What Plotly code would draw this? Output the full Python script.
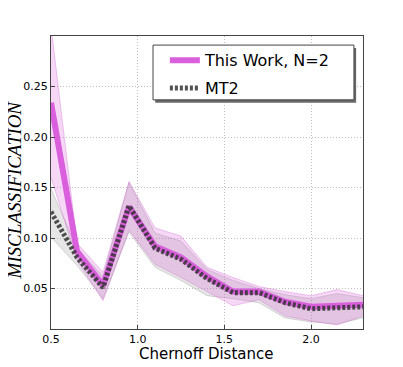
import plotly.graph_objects as go

# Chernoff distance grid
chernoff = [0.5, 0.65, 0.8, 0.95, 1.1, 1.25, 1.4, 1.55, 1.7, 1.85, 2.0, 2.15, 2.3]

# "This Work, N=2" mean and band
work_mean = [0.234, 0.087, 0.053, 0.131, 0.092, 0.081, 0.062, 0.047, 0.047, 0.037, 0.032, 0.033, 0.034]
work_upper = [0.310, 0.095, 0.066, 0.156, 0.110, 0.102, 0.071, 0.061, 0.052, 0.047, 0.043, 0.049, 0.043]
work_lower = [0.160, 0.078, 0.038, 0.108, 0.074, 0.061, 0.047, 0.033, 0.039, 0.023, 0.018, 0.014, 0.023]

# MT2 mean and band
mt2_mean = [0.126, 0.081, 0.051, 0.132, 0.090, 0.079, 0.060, 0.046, 0.046, 0.036, 0.030, 0.031, 0.032]
mt2_upper = [0.149, 0.090, 0.062, 0.155, 0.105, 0.097, 0.069, 0.058, 0.050, 0.044, 0.040, 0.045, 0.041]
mt2_lower = [0.101, 0.073, 0.040, 0.106, 0.071, 0.058, 0.043, 0.040, 0.036, 0.021, 0.017, 0.015, 0.021]

x_ticks = [0.5, 1.0, 1.5, 2.0]
y_ticks = [0.05, 0.10, 0.15, 0.20, 0.25]

fig = go.Figure()

# grey band for MT2
fig.add_trace(go.Scatter(x=chernoff, y=mt2_lower, mode='lines',
                         line=dict(color='rgba(120,120,120,0.35)', width=0.8),
                         showlegend=False, hoverinfo='skip'))
fig.add_trace(go.Scatter(x=chernoff, y=mt2_upper, mode='lines', fill='tonexty',
                         fillcolor='rgba(128,128,128,0.2)',
                         line=dict(color='rgba(120,120,120,0.35)', width=0.8),
                         showlegend=False, hoverinfo='skip'))

# pink band for this work
fig.add_trace(go.Scatter(x=chernoff, y=work_lower, mode='lines',
                         line=dict(color='rgba(200,90,200,0.4)', width=0.8),
                         showlegend=False, hoverinfo='skip'))
fig.add_trace(go.Scatter(x=chernoff, y=work_upper, mode='lines', fill='tonexty',
                         fillcolor='rgba(218,95,220,0.25)',
                         line=dict(color='rgba(200,90,200,0.4)', width=0.8),
                         showlegend=False, hoverinfo='skip'))

fig.add_trace(go.Scatter(x=chernoff, y=work_mean, mode='lines', name='This Work, N=2',
                         legendgroup='a',
                         line=dict(color='#d95fdc', width=6)))
fig.add_trace(go.Scatter(x=chernoff, y=mt2_mean, mode='lines', name='MT2',
                         legendgroup='b',
                         line=dict(color='rgba(50,50,50,0.85)', width=5, dash='3px,2px')))

axis_common = dict(showline=True, mirror=True, linecolor='#444', linewidth=1,
                   showgrid=True, gridcolor='#bdbdbd', griddash='1px,2px', gridwidth=1,
                   zeroline=False, ticks='inside', ticklen=4, tickcolor='#444',
                   automargin=False,
                   tickfont=dict(family='DejaVu Sans', size=11, color='black'))

fig.update_xaxes(range=[0.5, 2.3], tickvals=x_ticks, ticktext=['0.5', '1.0', '1.5', '2.0'],
                 **axis_common)
fig.update_yaxes(range=[0.01, 0.30], tickvals=y_ticks, ticktext=['0.05', '0.10', '0.15', '0.20', '0.25'],
                 **axis_common)

# axis titles as annotations for exact placement
fig.add_annotation(text='Chernoff Distance', xref='paper', yref='paper', x=0.498, y=-0.085,
                   showarrow=False, xanchor='center', yanchor='middle',
                   font=dict(family='DejaVu Sans', size=15, color='black'))
fig.add_annotation(text='MISCLASSIFICATION', xref='paper', yref='paper', x=-0.118, y=0.473,
                   showarrow=False, xanchor='center', yanchor='middle', textangle=-90,
                   font=dict(family='Liberation Serif', size=19, color='black', style='italic'))

# legend frame with shadow, drawn as shapes behind the legend text
fig.add_shape(type='rect', xref='paper', yref='paper', x0=0.334, x1=0.978, y0=0.772, y1=0.959,
              fillcolor='#6a6a6a', line=dict(width=0), layer='above')
fig.add_shape(type='rect', xref='paper', yref='paper', x0=0.327, x1=0.971, y0=0.782, y1=0.969,
              fillcolor='white', line=dict(color='#444', width=1), layer='above')

# page body adds an 8px offset, so the figure is sized to fit the window
fig.update_layout(
    width=395, height=359,
    margin=dict(l=43, r=40, t=28, b=38),
    plot_bgcolor='white', paper_bgcolor='white',
    legend=dict(x=0.365, y=0.975, xanchor='left', yanchor='top',
                bgcolor='rgba(0,0,0,0)', borderwidth=0,
                font=dict(family='DejaVu Sans', size=16, color='black'),
                traceorder='grouped', tracegroupgap=4),
    showlegend=True,
)

fig.write_html("out.html")
